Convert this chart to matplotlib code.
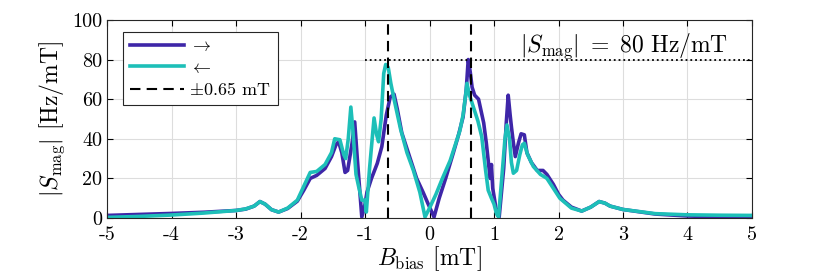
import matplotlib
matplotlib.use('Agg')
import matplotlib.pyplot as plt

plt.rcParams['font.family'] = 'serif'
plt.rcParams['font.serif'] = ['cmr10']
plt.rcParams['mathtext.fontset'] = 'cm'
plt.rcParams['axes.unicode_minus'] = False
plt.rcParams['axes.formatter.use_mathtext'] = False

# forward sweep (->)
x_fwd = [-5, -4.5, -4, -3.5, -3, -2.85, -2.72, -2.63, -2.55, -2.45, -2.34, -2.2, -2.05,
         -1.95, -1.85, -1.75, -1.62, -1.52, -1.45, -1.41, -1.36, -1.31, -1.27, -1.2, -1.16,
         -1.12, -1.05, -1.0, -0.97, -0.9, -0.81, -0.74, -0.67, -0.61, -0.55, -0.5, -0.43,
         -0.3, -0.2, -0.1, -0.02, 0.07, 0.15, 0.25, 0.37, 0.45, 0.52, 0.57, 0.6, 0.63, 0.66,
         0.7, 0.76, 0.8, 0.84, 0.88, 0.91, 0.94, 0.96, 0.98, 1.03, 1.08, 1.15, 1.19, 1.22,
         1.25, 1.27, 1.3, 1.33, 1.38, 1.42, 1.47, 1.51, 1.58, 1.67, 1.76, 1.82, 1.92, 2.0,
         2.07, 2.2, 2.36, 2.5, 2.63, 2.72, 2.8, 3.0, 3.5, 4.0, 4.5, 5.0]
s_fwd = [1.3, 1.8, 2.3, 2.9, 3.8, 4.5, 6, 8.3, 7, 4.2, 3.0, 4.8, 8.5,
         14, 20, 21.5, 25, 31, 37, 38.5, 33, 23, 24, 38, 48.5,
         30, 0.5, 7, 13, 20, 27.6, 36, 52, 61, 62.5, 55, 43,
         30, 20, 13, 7, 0.5, 10, 20, 33, 42, 51, 65, 80, 74, 66,
         62, 60, 54, 48, 38, 29, 20, 27, 15, 5, 0.5, 25, 48, 62,
         52, 46, 38, 31, 38, 42.5, 42, 33, 28, 24, 24, 22, 17, 12,
         9, 5.5, 3.5, 5.5, 8.3, 7.5, 6, 4.3, 2, 1, 0.6, 0.3]

# backward sweep (<-)
x_bwd = [-5, -4.5, -4, -3.5, -3, -2.85, -2.72, -2.63, -2.55, -2.45, -2.34, -2.2, -2.05,
         -1.95, -1.85, -1.75, -1.62, -1.52, -1.47, -1.39, -1.33, -1.3, -1.26, -1.22, -1.19,
         -1.14, -1.1, -1.05, -1.0, -0.98, -0.93, -0.86, -0.82, -0.79, -0.75, -0.71, -0.68,
         -0.64, -0.6, -0.55, -0.45, -0.35, -0.25, -0.15, -0.07, 0.0, 0.1, 0.2, 0.32, 0.4,
         0.47, 0.52, 0.56, 0.58, 0.62, 0.68, 0.75, 0.81, 0.87, 0.91, 0.96, 1.0, 1.04, 1.07,
         1.12, 1.17, 1.2, 1.24, 1.27, 1.3, 1.35, 1.4, 1.44, 1.47, 1.52, 1.61, 1.72, 1.82,
         1.92, 2.02, 2.2, 2.36, 2.5, 2.63, 2.72, 2.8, 3.0, 3.5, 4.0, 4.5, 5.0]
s_bwd = [0.3, 0.8, 1.5, 2.5, 3.8, 4.6, 6, 8.3, 7, 4.2, 3.0, 5, 9,
         16, 23, 23.5, 27, 33, 40, 39.5, 32, 30, 40, 56, 45,
         22, 16, 9, 9, 3, 25, 50.5, 42, 38.5, 50, 73, 77.5,
         76, 68, 60, 45, 33, 24, 13, 0.5, 5, 12, 20, 29, 37,
         44, 52, 62, 68, 62, 56, 49, 41, 24, 14, 10, 7, 2, 0.5,
         20, 40, 47, 40, 28, 22.6, 24, 32, 37, 37.7, 32, 26, 22, 20,
         15, 10, 5, 3.5, 5.5, 8.3, 7.5, 6, 4.3, 2.2, 1.6, 1.4, 1.3]

b_mark = 0.65
s_level = 80

fig = plt.figure(figsize=(8.3, 2.77), dpi=100)
ax = fig.add_axes([0.129, 0.213, 0.777, 0.715])

ax.plot(x_fwd, s_fwd, color='#3e26a8', lw=2.6, label=r'$\rightarrow$')
ax.plot(x_bwd, s_bwd, color='#1dbfb8', lw=2.6, label=r'$\leftarrow$')
ax.axvline(-b_mark, color='k', ls=(0, (5, 3)), lw=1.5, label=r'$\pm$0.65 mT')
ax.axvline(b_mark, color='k', ls=(0, (5, 3)), lw=1.5)
ax.plot([-1, 5], [s_level, s_level], color='k', ls=':', lw=1.3)
ax.text(4.63, 84, r'$|S_{\rm mag}|\ =\ 80\ \mathrm{Hz/mT}$', ha='right', va='baseline', fontsize=17)

ax.set_xlim(-5, 5)
ax.set_ylim(0, 100)
ax.set_xticks(range(-5, 6))
ax.set_yticks(range(0, 101, 20))
ax.grid(True, color='#dddddd', lw=0.8)
ax.set_axisbelow(True)
ax.tick_params(direction='in', top=True, right=True, labelsize=14.5, length=4)
ax.tick_params(axis='x', pad=6)
for sp in ax.spines.values():
    sp.set_color('#262626')
ax.set_xlabel(r'$B_{\rm bias}$ [mT]', fontsize=17, labelpad=0)
ax.set_ylabel(r'$|S_{\rm mag}|$ [Hz/mT]', fontsize=17, labelpad=4)

leg = ax.legend(loc='upper left', bbox_to_anchor=(0.024, 0.941), borderaxespad=0,
                fancybox=False, framealpha=1, edgecolor='#262626', fontsize=13,
                handlelength=3.0, labelspacing=0.3, handletextpad=0.3)
leg.get_frame().set_linewidth(0.8)

fig.savefig('out.png', dpi=100)
